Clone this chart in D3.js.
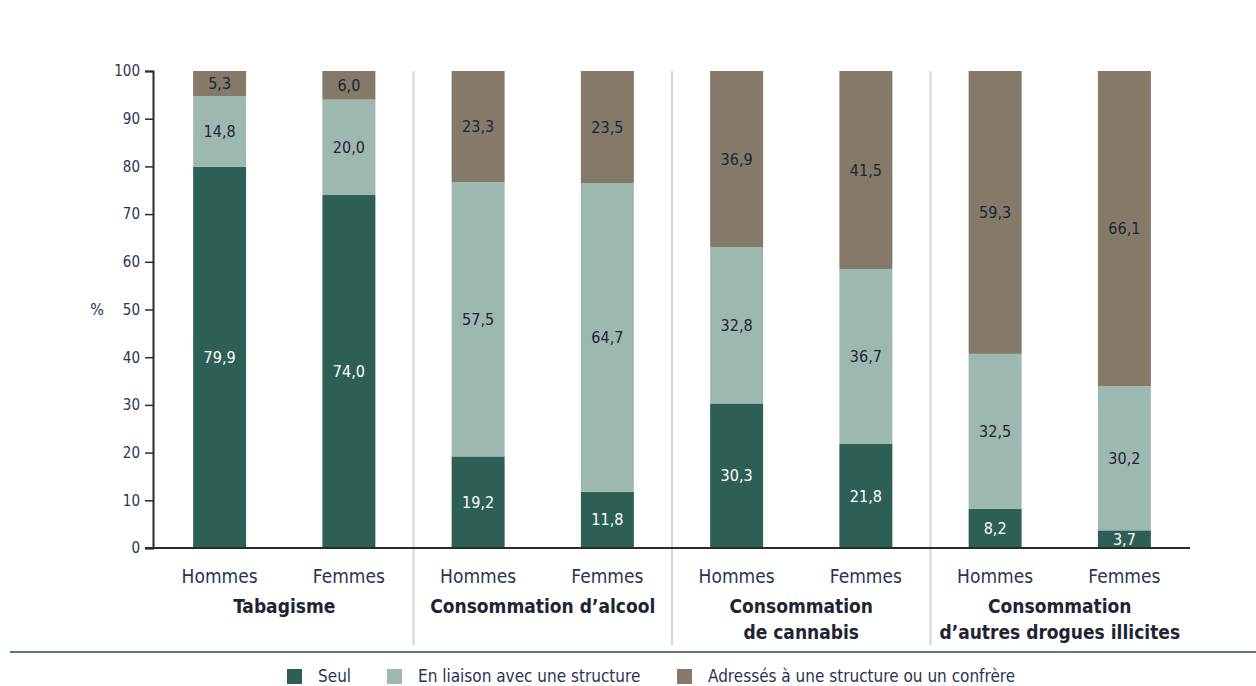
<!DOCTYPE html>
<html lang="fr">
<head>
<meta charset="utf-8">
<script src="https://cdn.jsdelivr.net/npm/d3@7/dist/d3.min.js"></script>
<style>
  html, body { margin: 0; padding: 0; background: #fff; }
  svg { display: block; }
  text { font-family: "Liberation Sans Narrow", "DejaVu Sans Condensed", "Roboto Condensed", sans-serif; }
</style>
</head>
<body>
<svg id="chart" width="1256" height="686"></svg>
<script>
// Répartition de la prise en charge par type de consommation et par sexe (%)
const groups = ["Tabagisme", "Consommation d’alcool", "Consommation\nde cannabis", "Consommation\nd’autres drogues illicites"];
const sexes = ["Hommes", "Femmes"];
const seriesNames = ["Seul", "En liaison avec une structure", "Adressés à une structure ou un confrère"];
const seul     = [79.9, 74.0, 19.2, 11.8, 30.3, 21.8, 8.2, 3.7];
const liaison  = [14.8, 20.0, 57.5, 64.7, 32.8, 36.7, 32.5, 30.2];
const adresses = [5.3, 6.0, 23.3, 23.5, 36.9, 41.5, 59.3, 66.1];
const yTicks = [0, 10, 20, 30, 40, 50, 60, 70, 80, 90, 100];

const colors = ["#2d5f55", "#9cb8b1", "#857a69"];
const labelColors = ["#ffffff", "#1f2433", "#1f2433"];
const textColor = "#2a3550";

const svg = d3.select("#chart");

// one row per bar (group × sex)
const rows = [];
groups.forEach((g, gi) => sexes.forEach((s, si) => {
  const i = gi * sexes.length + si;
  rows.push({ key: i, group: gi, sex: s, Seul: seul[i], Liaison: liaison[i], Adresses: adresses[i] });
}));
const keys = ["Seul", "Liaison", "Adresses"];

const x = d3.scaleBand()
  .domain(rows.map(d => d.key))
  .range([155, 1189])
  .paddingInner(0.59)
  .paddingOuter(0.295);

const y = d3.scaleLinear().domain([0, 100]).range([548, 71]);

const stack = d3.stack().keys(keys);
const stacked = stack(rows);

// separators between groups
const step = x.step();
for (let gi = 1; gi < groups.length; gi++) {
  const first = x(gi * sexes.length);
  const xs = first - (step - x.bandwidth()) / 2;
  svg.append("line")
    .attr("x1", xs).attr("x2", xs)
    .attr("y1", y(100)).attr("y2", 645)
    .attr("stroke", "#d4d4d4").attr("stroke-width", 2);
}

// stacked bars
const layer = svg.append("g").selectAll("g")
  .data(stacked)
  .join("g")
  .attr("fill", (d, i) => colors[i]);

layer.selectAll("rect")
  .data(d => d)
  .join("rect")
  .attr("x", d => x(d.data.key))
  .attr("width", x.bandwidth())
  .attr("y", d => y(d[1]))
  .attr("height", d => y(d[0]) - y(d[1]));

// value labels
stacked.forEach((s, si) => {
  svg.append("g").selectAll("text")
    .data(s)
    .join("text")
    .attr("x", d => x(d.data.key) + x.bandwidth() / 2)
    .attr("y", d => y((d[0] + d[1]) / 2))
    .attr("dy", "0.35em")
    .attr("text-anchor", "middle")
    .attr("font-size", 16)
    .attr("fill", labelColors[si])
    .text(d => d3.format(".1f")(d[1] - d[0]).replace(".", ","));
});

// y axis
const yAxis = svg.append("g")
  .attr("transform", "translate(153,0)")
  .call(d3.axisLeft(y).tickValues(yTicks).tickSize(8).tickPadding(5));
yAxis.select(".domain").attr("stroke", "#2b2b2b").attr("stroke-width", 2);
yAxis.selectAll(".tick line").attr("stroke", "#2b2b2b").attr("stroke-width", 1.5);
yAxis.selectAll(".tick text")
  .attr("font-size", 15).attr("fill", textColor)
  .attr("font-family", "\"Liberation Sans Narrow\", \"DejaVu Sans Condensed\", sans-serif");

// x baseline
svg.append("line")
  .attr("x1", 145).attr("x2", 1190)
  .attr("y1", y(0)).attr("y2", y(0))
  .attr("stroke", "#2b2b2b").attr("stroke-width", 2);

svg.append("text")
  .attr("x", 97).attr("y", y(50))
  .attr("dy", "0.35em")
  .attr("text-anchor", "middle")
  .attr("font-size", 16).attr("fill", textColor)
  .text("%");

// sex labels
svg.append("g").selectAll("text")
  .data(rows)
  .join("text")
  .attr("x", d => x(d.key) + x.bandwidth() / 2)
  .attr("y", 583)
  .attr("text-anchor", "middle")
  .attr("font-size", 19).attr("fill", textColor)
  .text(d => d.sex);

// group labels
groups.forEach((g, gi) => {
  const cx = (x(gi * 2) + x(gi * 2 + 1) + x.bandwidth()) / 2;
  const t = svg.append("text")
    .attr("text-anchor", "middle")
    .attr("font-size", 19).attr("font-weight", "bold").attr("fill", "#1f2433");
  g.split("\n").forEach((line, li) => {
    t.append("tspan").attr("x", cx).attr("y", 613 + li * 26).text(line);
  });
});

// rule above the legend
svg.append("line")
  .attr("x1", 10).attr("x2", 1256)
  .attr("y1", 652).attr("y2", 652)
  .attr("stroke", "#5b7d73").attr("stroke-width", 2);

// legend
const legendX = [287, 387, 677];
seriesNames.forEach((name, i) => {
  const g = svg.append("g").attr("transform", `translate(${legendX[i]},669)`);
  g.append("rect").attr("width", 15).attr("height", 15).attr("fill", colors[i]);
  g.append("text")
    .attr("x", 31).attr("y", 7.5).attr("dy", "0.35em")
    .attr("font-size", 17).attr("fill", textColor)
    .text(name);
});
</script>
</body>
</html>
